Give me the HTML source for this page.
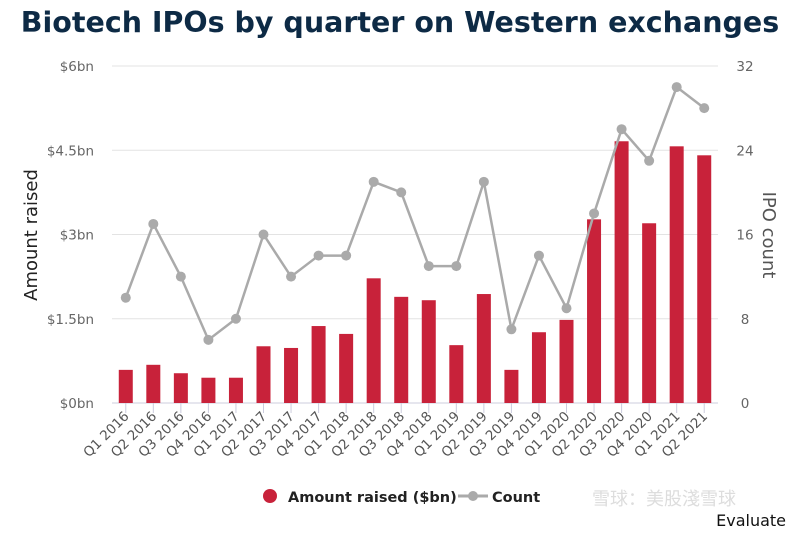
<!DOCTYPE html>
<html><head><meta charset="utf-8"><style>
body{margin:0;background:#fff;width:800px;height:533px;overflow:hidden;font-family:"DejaVu Sans","Liberation Sans",sans-serif}
</style></head><body>
<svg id="c" width="800" height="533" xmlns="http://www.w3.org/2000/svg">
<text x="400" y="32" text-anchor="middle" font-family="'DejaVu Sans',sans-serif" font-weight="bold" font-size="28.5" fill="#0d2a45">Biotech IPOs by quarter on Western exchanges</text>
<g id="grid"></g><g id="bars"></g><g id="line"></g><g id="axes"></g>
<text transform="translate(37,235) rotate(-90)" text-anchor="middle" font-size="18" fill="#222">Amount raised</text>
<text transform="translate(763,235) rotate(90)" text-anchor="middle" font-size="18" fill="#555">IPO count</text>
<g>
<circle cx="270" cy="496" r="7" fill="#c8223a"/>
<text x="288" y="502" font-size="14.5" font-weight="bold" fill="#222">Amount raised ($bn)</text>
<line x1="458" y1="496" x2="488" y2="496" stroke="#aaa" stroke-width="3"/>
<circle cx="473" cy="496" r="5" fill="#aaa"/>
<text x="492" y="502" font-size="14.5" font-weight="bold" fill="#222">Count</text>
</g>
<text x="592" y="505" font-family="'Noto Sans CJK SC',sans-serif" font-size="18" fill="#ddd">雪球：美股淺雪球</text>
<text x="786" y="526" text-anchor="end" font-size="16" fill="#111">Evaluate</text>
</svg>
<script>
const categories=["Q1 2016","Q2 2016","Q3 2016","Q4 2016","Q1 2017","Q2 2017","Q3 2017","Q4 2017","Q1 2018","Q2 2018","Q3 2018","Q4 2018","Q1 2019","Q2 2019","Q3 2019","Q4 2019","Q1 2020","Q2 2020","Q3 2020","Q4 2020","Q1 2021","Q2 2021"];
const amountRaised=[0.59,0.68,0.53,0.45,0.45,1.01,0.98,1.37,1.23,2.22,1.89,1.83,1.03,1.94,0.59,1.26,1.48,3.27,4.66,3.2,4.57,4.41];
const ipoCount=[10,17,12,6,8,16,12,14,14,21,20,13,13,21,7,14,9,18,26,23,30,28];
const leftTicks=[0,1.5,3,4.5,6];
const leftTickLabels=["$0bn","$1.5bn","$3bn","$4.5bn","$6bn"];
const rightTicks=[0,8,16,24,32];
const NS="http://www.w3.org/2000/svg";
const X0=112,X1=718,Y0=403,Y1=66;
const step=(X1-X0)/categories.length;
const xs=i=>X0+step*(i+0.5);
const yL=v=>Y0-(v/6)*(Y0-Y1);
const yR=v=>Y0-(v/32)*(Y0-Y1);
function mk(tag,attrs,parent,txt){const e=document.createElementNS(NS,tag);for(const k in attrs)e.setAttribute(k,attrs[k]);if(txt!=null)e.textContent=txt;document.getElementById(parent).appendChild(e);return e;}
leftTicks.forEach((t,i)=>{
 const g=mk("line",{x1:X0,x2:X1,y1:yL(t),y2:yL(t),stroke:i==0?"#ccd":"#e3e3e3","stroke-width":1},"grid");
 
 
 const l=mk("text",{x:X0-18,y:yL(t)+5,"text-anchor":"end","font-size":13.5,fill:"#666"},"axes",leftTickLabels[i]);
 
 
});
rightTicks.forEach(t=>{
 const l=mk("text",{x:745,y:yR(t)+5,"text-anchor":"middle","font-size":13.5,fill:"#666"},"axes",String(t));
 
 
});
categories.forEach((c,i)=>{
 const x=xs(i);
 const tk=mk("line",{x1:x,x2:x,y1:Y0,y2:Y0+10,stroke:"#ccd"},"axes");
 
 
 const l=mk("text",{x:x+4,y:Y0+14,"text-anchor":"end","font-size":13.5,fill:"#555",transform:`rotate(-45 ${x+4} ${Y0+14})`},"axes",c);
 
 
 const b=mk("rect",{x:x-7,y:yL(amountRaised[i]),width:14,height:Y0-yL(amountRaised[i]),fill:"#c8223a"},"bars");
 
 
});
const pl=mk("polyline",{points:ipoCount.map((v,i)=>xs(i)+","+yR(v)).join(" "),fill:"none",stroke:"#aaa","stroke-width":2.5},"line");


ipoCount.forEach((v,i)=>{
 const p=mk("circle",{cx:xs(i),cy:yR(v),r:5,fill:"#aaa"},"line");
 
 
});
</script>
</body></html>
